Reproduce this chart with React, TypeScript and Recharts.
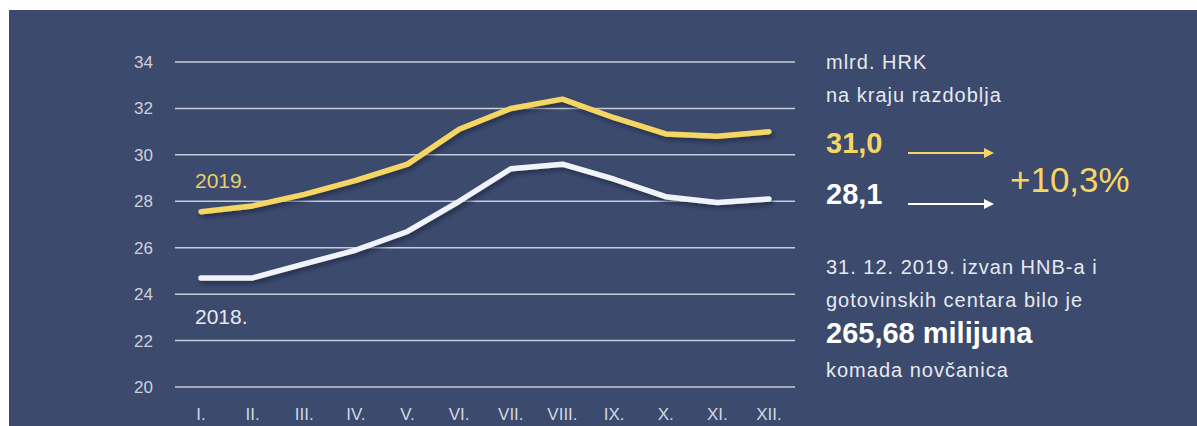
import { LineChart, Line, XAxis, YAxis, CartesianGrid } from "recharts";

const months = ["I.", "II.", "III.", "IV.", "V.", "VI.", "VII.", "VIII.", "IX.", "X.", "XI.", "XII."];
const y2019 = [27.55, 27.8, 28.3, 28.9, 29.6, 31.1, 32.0, 32.4, 31.6, 30.9, 30.8, 31.0];
const y2018 = [24.7, 24.7, 25.3, 25.9, 26.7, 28.0, 29.4, 29.6, 28.95, 28.2, 27.95, 28.1];
const yTicks = [20, 22, 24, 26, 28, 30, 32, 34];

const data = months.map((m, i) => ({ month: m, y2019: y2019[i], y2018: y2018[i] }));

const BG = "#3c4a6e";
const YELLOW = "#f5d664";
const WHITE = "#f1f3fa";
const FONT = "'Liberation Sans', Arial, sans-serif";

const txt = (top: number, size: number, extra: React.CSSProperties = {}): React.CSSProperties => ({
  position: "absolute",
  left: 826,
  top,
  fontSize: size,
  lineHeight: `${size}px`,
  whiteSpace: "nowrap",
  color: "#e7e9f0",
  fontFamily: FONT,
  letterSpacing: 1,
  ...extra,
});

function Arrow({ top, color }: { top: number; color: string }) {
  return (
    <svg style={{ position: "absolute", left: 908, top: top - 6 }} width={88} height={12}>
      <line x1={0} y1={6} x2={78} y2={6} stroke={color} strokeWidth={2} />
      <polygon points="76,1 86,6 76,11" fill={color} />
    </svg>
  );
}

export default function App() {
  return (
    <div style={{ position: "absolute", left: 0, top: 0, width: 1197, height: 426, background: "#fff" }}>
      <svg width={0} height={0} style={{ position: "absolute" }}>
        <defs>
          <filter id="lineShadow" x="-10%" y="-30%" width="120%" height="160%">
            <feDropShadow dx="2" dy="3" stdDeviation="2" floodColor="#141a32" floodOpacity="0.6" />
          </filter>
        </defs>
      </svg>
      <div style={{ position: "absolute", left: 9, top: 10, width: 1188, height: 416, background: BG }}>
        <LineChart width={1188} height={416} data={data} margin={{ top: 52, right: 402, left: 126, bottom: 9 }}>
          <CartesianGrid vertical={false} stroke="#c9cdd9" strokeWidth={1.5} />
          <XAxis
            dataKey="month"
            axisLine={false}
            tickLine={false}
            tickSize={0}
            tickMargin={21}
            height={30}
            interval={0}
            padding={{ left: 26, right: 26 }}
            tick={{ fontSize: 17, fill: "#d2d6e2", fontFamily: FONT }}
          />
          <YAxis
            domain={[20, 34]}
            ticks={yTicks}
            interval={0}
            axisLine={false}
            tickLine={false}
            tickSize={0}
            tickMargin={22}
            width={40}
            tick={{ fontSize: 17, fill: "#cdd1dc", fontFamily: FONT }}
          />
          <Line
            type="linear"
            dataKey="y2018"
            stroke={WHITE}
            strokeWidth={5.5}
            strokeLinecap="round"
            strokeLinejoin="round"
            dot={false}
            filter="url(#lineShadow)"
            isAnimationActive={false}
          />
          <Line
            type="linear"
            dataKey="y2019"
            stroke={YELLOW}
            strokeWidth={5.5}
            strokeLinecap="round"
            strokeLinejoin="round"
            dot={false}
            filter="url(#lineShadow)"
            isAnimationActive={false}
          />
        </LineChart>
      </div>

      <div style={{ ...txt(170, 21, { color: "#e6cf6c", letterSpacing: 0 }), left: 195 }}>2019.</div>
      <div style={{ ...txt(306, 21, { color: "#e7e9f0", letterSpacing: 0 }), left: 195 }}>2018.</div>

      <div style={txt(52, 20)}>mlrd. HRK</div>
      <div style={txt(85, 20)}>na kraju razdoblja</div>
      <div style={txt(129, 29, { color: YELLOW, fontWeight: 700, letterSpacing: 0 })}>31,0</div>
      <div style={txt(180, 29, { color: "#ffffff", fontWeight: 700, letterSpacing: 0 })}>28,1</div>
      <Arrow top={153} color={YELLOW} />
      <Arrow top={204} color="#ffffff" />
      <div style={txt(162, 35, { left: 1010, color: YELLOW, letterSpacing: 0 })}>+10,3%</div>
      <div style={txt(257, 20)}>31. 12. 2019. izvan HNB-a i</div>
      <div style={txt(290, 20)}>gotovinskih centara bilo je</div>
      <div style={txt(319, 29, { color: "#ffffff", fontWeight: 700, letterSpacing: 0 })}>265,68 milijuna</div>
      <div style={txt(360, 20)}>komada novčanica</div>
    </div>
  );
}
